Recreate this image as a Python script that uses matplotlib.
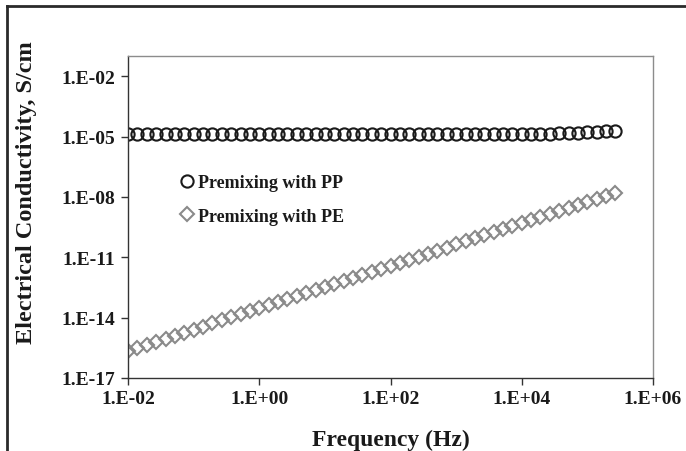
import matplotlib
matplotlib.use("Agg")
import matplotlib.pyplot as plt
from matplotlib.lines import Line2D
from matplotlib.ticker import FixedLocator, FuncFormatter, NullLocator
import numpy as np

# Frequency sweep (Hz), 7 points per decade
freq_hz = [
    1.00e-2, 1.39e-2, 1.93e-2, 2.68e-2, 3.73e-2, 5.18e-2, 7.20e-2,
    1.00e-1, 1.39e-1, 1.93e-1, 2.68e-1, 3.73e-1, 5.18e-1, 7.20e-1,
    1.00e0, 1.39e0, 1.93e0, 2.68e0, 3.73e0, 5.18e0, 7.20e0,
    1.00e1, 1.39e1, 1.93e1, 2.68e1, 3.73e1, 5.18e1, 7.20e1,
    1.00e2, 1.39e2, 1.93e2, 2.68e2, 3.73e2, 5.18e2, 7.20e2,
    1.00e3, 1.39e3, 1.93e3, 2.68e3, 3.73e3, 5.18e3, 7.20e3,
    1.00e4, 1.39e4, 1.93e4, 2.68e4, 3.73e4, 5.18e4, 7.20e4,
    1.00e5, 1.39e5, 1.93e5, 2.68e5,
]

# Conductivity (S/cm), premixing with PP
sigma_pp = [
    1.30e-5, 1.30e-5, 1.30e-5, 1.30e-5, 1.30e-5, 1.30e-5, 1.30e-5,
    1.30e-5, 1.30e-5, 1.30e-5, 1.30e-5, 1.30e-5, 1.30e-5, 1.30e-5,
    1.30e-5, 1.30e-5, 1.30e-5, 1.30e-5, 1.30e-5, 1.30e-5, 1.30e-5,
    1.30e-5, 1.30e-5, 1.30e-5, 1.30e-5, 1.30e-5, 1.30e-5, 1.30e-5,
    1.30e-5, 1.30e-5, 1.30e-5, 1.30e-5, 1.30e-5, 1.30e-5, 1.30e-5,
    1.30e-5, 1.30e-5, 1.30e-5, 1.30e-5, 1.31e-5, 1.31e-5, 1.32e-5,
    1.32e-5, 1.34e-5, 1.36e-5, 1.39e-5, 1.42e-5, 1.47e-5, 1.52e-5,
    1.60e-5, 1.68e-5, 1.80e-5, 1.95e-5,
]

# Conductivity (S/cm), premixing with PE
sigma_pe = [
    2.24e-16, 3.17e-16, 4.49e-16, 6.35e-16, 8.99e-16, 1.27e-15, 1.80e-15,
    2.55e-15, 3.61e-15, 5.12e-15, 7.24e-15, 1.03e-14, 1.45e-14, 2.06e-14,
    2.91e-14, 4.12e-14, 5.83e-14, 8.26e-14, 1.17e-13, 1.66e-13, 2.34e-13,
    3.32e-13, 4.70e-13, 6.65e-13, 9.42e-13, 1.33e-12, 1.89e-12, 2.67e-12,
    3.78e-12, 5.36e-12, 7.59e-12, 1.07e-11, 1.52e-11, 2.15e-11, 3.05e-11,
    4.32e-11, 6.11e-11, 8.65e-11, 1.22e-10, 1.73e-10, 2.45e-10, 3.48e-10,
    4.92e-10, 6.97e-10, 9.86e-10, 1.40e-9, 1.98e-9, 2.80e-9, 3.96e-9,
    5.61e-9, 7.94e-9, 1.12e-8, 1.59e-8,
]

series_labels = ["Premixing with PP", "Premixing with PE"]
x_ticks = [1e-2, 1e0, 1e2, 1e4, 1e6]
y_ticks = [1e-17, 1e-14, 1e-11, 1e-8, 1e-5, 1e-2]

plt.rcParams["font.family"] = ["Liberation Serif", "DejaVu Serif"]
plt.rcParams["font.weight"] = "bold"

W, H = 686, 452
fig = plt.figure(figsize=(W / 100, H / 100), dpi=100)
ax = fig.add_axes([128 / W, 1 - 379 / H, (653 - 128) / W, (379 - 57) / H])

ax.plot(freq_hz, sigma_pp, linestyle="none", marker="o", markersize=8.8,
        markerfacecolor="none", markeredgecolor="#1a1a1a", markeredgewidth=1.5,
        label=series_labels[0])
ax.plot(freq_hz, sigma_pe, linestyle="none", marker="D", markersize=6.9,
        markerfacecolor="none", markeredgecolor="#8a8a8a", markeredgewidth=1.5,
        label=series_labels[1])

ax.set_xscale("log")
ax.set_yscale("log")
ax.set_xlim(1e-2, 1e6)
ax.set_ylim(1e-17, 1e-1)


def sci_label(v, pos):
    e = int(round(np.log10(v)))
    return f"1.E{e:+03d}"


ax.xaxis.set_major_locator(FixedLocator(x_ticks))
ax.yaxis.set_major_locator(FixedLocator(y_ticks))
ax.xaxis.set_minor_locator(NullLocator())
ax.yaxis.set_minor_locator(NullLocator())
ax.xaxis.set_major_formatter(FuncFormatter(sci_label))
ax.yaxis.set_major_formatter(FuncFormatter(sci_label))

ax.tick_params(axis="both", direction="out", length=5, width=1.0,
               color="#333333", labelsize=14, labelcolor="#1a1a1a", pad=4)
for lbl in ax.get_xticklabels() + ax.get_yticklabels():
    lbl.set_fontweight("bold")

for side in ("left", "bottom"):
    ax.spines[side].set_color("#333333")
    ax.spines[side].set_linewidth(1.0)
for side in ("top", "right"):
    ax.spines[side].set_color("#8c8c8c")
    ax.spines[side].set_linewidth(1.0)

ax.set_xlabel("Frequency (Hz)", fontsize=17, fontweight="bold",
              color="#1a1a1a", labelpad=15)
ax.set_ylabel("Electrical Conductivity, S/cm", fontsize=17.5, fontweight="bold",
              color="#1a1a1a")
ax.yaxis.set_label_coords(-0.174, 0.58)

leg = ax.legend(loc="upper left", bbox_to_anchor=(0.085, 0.655),
                frameon=False, fontsize=13, handlelength=0.8,
                handletextpad=0.2, labelspacing=0.9, borderaxespad=0)
for t in leg.get_texts():
    t.set_fontweight("bold")
    t.set_color("#1a1a1a")

# Outer frame around the figure
fig.add_artist(Line2D([7 / W, 7 / W], [0, 1 - 7 / H], transform=fig.transFigure,
                      color="#2a2a2a", linewidth=2.0))
fig.add_artist(Line2D([7 / W, 1], [1 - 7 / H, 1 - 7 / H], transform=fig.transFigure,
                      color="#2a2a2a", linewidth=2.0))

fig.savefig("out.png", dpi=100, facecolor="white")
